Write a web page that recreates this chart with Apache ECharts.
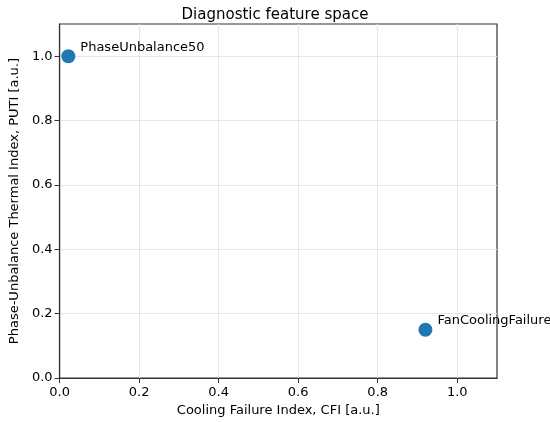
<!DOCTYPE html>
<html><head><meta charset="utf-8">
<script src="https://cdn.jsdelivr.net/npm/echarts@6/dist/echarts.min.js"></script>
<style>html,body{margin:0;padding:0;background:#fff}#c{width:550px;height:422px}</style>
</head><body><div id="c"></div>
<script>
const names = ["PhaseUnbalance50", "FanCoolingFailure"];
const cfi = [0.022, 0.92];
const puti = [1.0, 0.15];
const ticks = [0, 0.2, 0.4, 0.6, 0.8, 1.0];

const font = "DejaVu Sans";
const chart = echarts.init(document.getElementById('c'));
const axisCommon = {
  type: 'value', min: 0, max: 1.1, interval: 0.2,
  axisLine: {show: true, lineStyle: {color: '#333', width: 1.2}},
  axisTick: {show: true, inside: false, length: 5, lineStyle: {color: '#333'}, customValues: ticks},
  axisLabel: {color: '#000', fontFamily: font, fontSize: 13, customValues: ticks,
    formatter: v => v.toFixed(1)},
  splitLine: {show: true, lineStyle: {color: '#e6e6e6', width: 1}},
  nameLocation: 'middle',
  nameTextStyle: {color: '#000', fontFamily: font, fontSize: 13}
};
chart.setOption({
  animation: false,
  title: {text: 'Diagnostic feature space', left: 'center', top: 3,
    textStyle: {fontFamily: font, fontSize: 15, fontWeight: 'normal', color: '#000'}},
  grid: {left: 54, right: 53, top: 24, bottom: 41, show: true, borderColor: '#333', borderWidth: 1.2, backgroundColor: 'transparent'},
  xAxis: Object.assign({}, axisCommon, {name: 'Cooling Failure Index, CFI [a.u.]', nameGap: 23,
    axisLabel: Object.assign({}, axisCommon.axisLabel, {margin: 8})}),
  yAxis: Object.assign({}, axisCommon, {name: 'Phase-Unbalance Thermal Index, PUTI [a.u.]', nameGap: 35,
    axisLabel: Object.assign({}, axisCommon.axisLabel, {margin: 7})}),
  series: [{
    type: 'scatter',
    symbolSize: 14,
    itemStyle: {color: '#1f77b4', opacity: 1},
    data: cfi.map((x, i) => ({value: [x, puti[i]], name: names[i]})),
    label: {show: true, position: 'right', distance: 5, offset: [0, -9],
      formatter: p => p.name, color: '#000', fontFamily: font, fontSize: 13}
  }]
});
</script></body></html>
